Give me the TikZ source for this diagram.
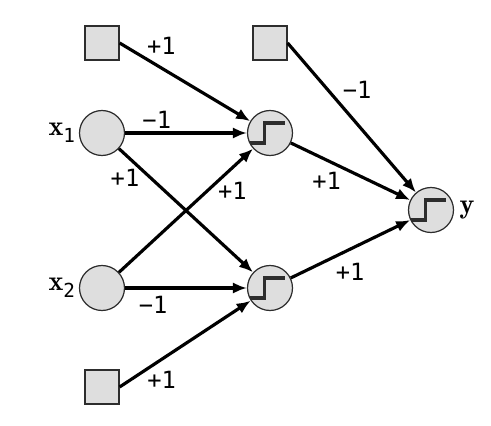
\documentclass[tikz,border=0pt]{standalone}
\usepackage{fontspec}
\usetikzlibrary{arrows.meta}
\newfontfamily\wtfont{DejaVu Sans Mono}
\definecolor{fillgray}{RGB}{222,222,222}
\definecolor{rimgray}{RGB}{45,45,45}
\newcommand{\invar}[1]{{\fontsize{16}{16}\selectfont$\mathbf{x}$}\raisebox{-0.5ex}{\fontsize{11}{11}\selectfont#1}}

\begin{document}
\begin{tikzpicture}[x=0.02cm, y=-0.02cm, font=\fontsize{13.5}{13.5}\selectfont\wtfont,
        bias/.style={rectangle, draw=rimgray, line width=0.7pt, fill=fillgray,
                     minimum size=0.68cm, inner sep=0pt},
        unit/.style={circle, draw=rimgray, line width=0.7pt, fill=fillgray,
                     minimum size=0.9cm, inner sep=0pt},
        stepunit/.style={unit, path picture={\draw[line width=2.2pt]
            ([xshift=-0.45cm, yshift=-0.2cm]path picture bounding box.center)
            -- ++(0.34cm,0) -- ++(0,0.4cm) -- ++(0.42cm,0);}},
        wire/.style={-{Latex[length=8pt, width=6.5pt]}, line width=1.8pt},
        wt/.style={inner sep=0pt}
    ]
    \useasboundingbox (0,0) rectangle (491,426);
    \node[bias] (b1) at (102,43)  {};
    \node[bias] (b2) at (270,43)  {};
    \node[bias] (b3) at (102,387) {};
    \node[unit, label={[wt, xshift=-2pt]left:\invar{1}}] (x1) at (102,133) {};
    \node[unit, label={[wt, xshift=-2pt]left:\invar{2}}] (x2) at (102,288) {};
    \node[stepunit] (h1) at (270,133) {};
    \node[stepunit] (h2) at (270,288) {};
    \node[stepunit, label={[wt, xshift=3pt]right:{\fontsize{16}{16}\selectfont$\mathbf{y}$}}] (out) at (431,210) {};

    \draw[wire] (b1.east) -- node[wt, pos=0.32, yshift=12.5pt] {+1} (h1);
    \draw[wire] (x1) -- node[wt, pos=0.26, yshift=7.4pt] {−1} (h1);
    \draw[wire] (x1) -- node[wt, pos=0.1, xshift=-4.2pt, yshift=-9.6pt] {+1} (h2);
    \draw[wire] (x2) -- node[wt, pos=0.8, xshift=3.5pt, yshift=-9.8pt] {+1} (h1);
    \draw[wire] (x2) -- node[wt, pos=0.23, yshift=-9.6pt] {−1} (h2);
    \draw[wire] (b3.east) -- node[wt, pos=0.32, yshift=-11.7pt] {+1} (h2);
    \draw[wire] (b2.east) -- node[wt, pos=0.4, xshift=10.3pt, yshift=7.4pt] {−1} (out);
    \draw[wire] (h1) -- node[wt, pos=0.3, yshift=-11.9pt] {+1} (out);
    \draw[wire] (h2) -- node[wt, pos=0.45, xshift=3.2pt, yshift=-11.3pt] {+1} (out);
\end{tikzpicture}
\end{document}
